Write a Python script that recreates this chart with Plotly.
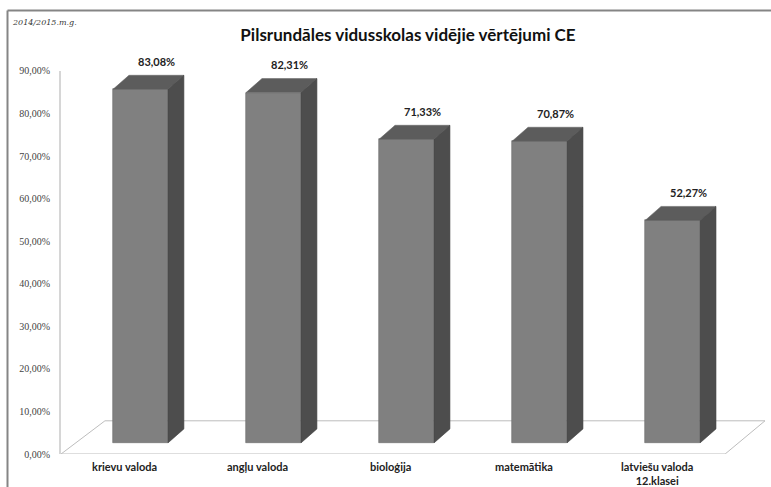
import plotly.graph_objects as go

# ---- data ----
categories = ["krievu valoda", "angļu valoda", "bioloģija", "matemātika", "latviešu valoda<br>12.klasei"]
values = [83.08, 82.31, 71.33, 70.87, 52.27]
tick_vals = [0, 10, 20, 30, 40, 50, 60, 70, 80, 90]
tick_text = [f"{v:.2f}%".replace(".", ",") for v in tick_vals]
value_text = [f"{v:.2f}%".replace(".", ",") for v in values]
title_text = "Pilsrundāles vidusskolas vidējie vērtējumi CE"
subtitle_text = "2014/2015.m.g."

# ---- style / geometry (pseudo-3D) ----
W, H = 771, 487
ML, MR, MT, MB = 60, 0, 40, 33
PX_PER_PCT = 4.256
plot_h = H - MT - MB
y_top = plot_h / PX_PER_PCT
x_lo, x_hi = -0.605, 4.74
BAR_W = 0.413          # in category units
BASE = 2.6             # front face lifted above floor front edge
DX, DY = 0.12, 3.3     # depth offset of bar (x units, % units)
FDX, FDY = 0.33, 7.8   # floor depth

FRONT = "#808080"
TOP = "#5c5c5c"
SIDE = "#4d4d4d"
EDGE = "#6a6a6a"
n = len(values)
xs = list(range(n))

fig = go.Figure()

# front faces
fig.add_trace(go.Bar(
    x=xs, y=values, base=[BASE] * n, width=BAR_W,
    marker=dict(color=FRONT, line=dict(color=EDGE, width=0.6)),
    hoverinfo="skip", showlegend=False,
))

# top + side faces
top_x, top_y, side_x, side_y = [], [], [], []
for i, v in zip(xs, values):
    t = BASE + v
    l, r = i - BAR_W / 2, i + BAR_W / 2
    top_x += [l, r, r + DX, l + DX, l, None]
    top_y += [t, t, t + DY, t + DY, t, None]
    side_x += [r, r + DX, r + DX, r, r, None]
    side_y += [BASE, BASE + DY, t + DY, t, BASE, None]
fig.add_trace(go.Scatter(x=top_x, y=top_y, fill="toself", fillcolor=TOP, mode="lines",
                         line=dict(color=EDGE, width=0.6), hoverinfo="skip", showlegend=False))
fig.add_trace(go.Scatter(x=side_x, y=side_y, fill="toself", fillcolor=SIDE, mode="lines",
                         line=dict(color="#474747", width=0.6), hoverinfo="skip", showlegend=False))

# floor
fl, fr = x_lo + 0.008, n - 1 + 0.395
floor_path = f"M {fl} 0 L {fr} 0 L {fr + 0.30} {FDY} L {fl + FDX} {FDY} Z"
shapes = [
    dict(type="path", path=floor_path, xref="x", yref="y", line=dict(color="#bdbdbd", width=1), layer="below"),
    dict(type="line", xref="paper", yref="y", x0=0, x1=0, y0=0, y1=90, line=dict(color="#c8c8c8", width=1.5), layer="below"),
]
# frame
fx = (7.5 - ML) / (W - ML - MR)
fy_top = (H - MB - 10.5) / plot_h
fy_bot = (H - MB - H - 5) / plot_h
shapes += [
    dict(type="line", xref="paper", yref="paper", x0=fx, x1=fx, y0=fy_top, y1=fy_bot, line=dict(color="#858585", width=2)),
    dict(type="line", xref="paper", yref="paper", x0=fx, x1=1.0, y0=fy_top, y1=fy_top, line=dict(color="#858585", width=2)),
]

annotations = []
for i, v, s in zip(xs, values, value_text):
    annotations.append(dict(x=i + DX, y=BASE + v + DY, text=f"<b>{s}</b>", showarrow=False,
                            yanchor="middle", yshift=14, font=dict(family="Lato", size=11, color="#222")))
for i, c in zip(xs, categories):
    annotations.append(dict(x=i - 0.117, y=0, text=f"<b>{c}</b>", showarrow=False, yanchor="top",
                            yshift=-4, font=dict(family="Lato", size=11, color="#222")))
annotations.append(dict(xref="paper", yref="paper", x=fx + 0.004, y=(H - MB - 22) / plot_h,
                        text=f"<i>{subtitle_text}</i>", showarrow=False, xanchor="left", yanchor="middle",
                        font=dict(family="DejaVu Serif", size=8, color="#333")))

fig.update_layout(
    width=W, height=H,
    margin=dict(l=ML, r=MR, t=MT, b=MB),
    paper_bgcolor="white", plot_bgcolor="white",
    title=dict(text=f"<b>{title_text}</b>", x=408 / W, xanchor="center", xref="container",
               y=1 - 35 / H, yanchor="middle", yref="container",
               font=dict(family="Lato", size=17, color="#111")),
    xaxis=dict(range=[x_lo, x_hi], showgrid=False, zeroline=False, showline=False,
               showticklabels=False, fixedrange=True),
    yaxis=dict(range=[0, y_top], showgrid=False, zeroline=False, showline=False,
               tickvals=tick_vals, ticktext=tick_text, ticks="", ticklabelstandoff=9,
               tickfont=dict(family="Liberation Serif", size=10, color="#444"), fixedrange=True),
    shapes=shapes, annotations=annotations,
    bargap=0, showlegend=False,
)

fig.write_html(
    "out.html",
    config={"displayModeBar": False},
    post_script=("document.documentElement.style.margin='0';document.body.style.margin='0';"
                 "document.documentElement.style.overflow='hidden';document.body.style.overflow='hidden';"),
)
